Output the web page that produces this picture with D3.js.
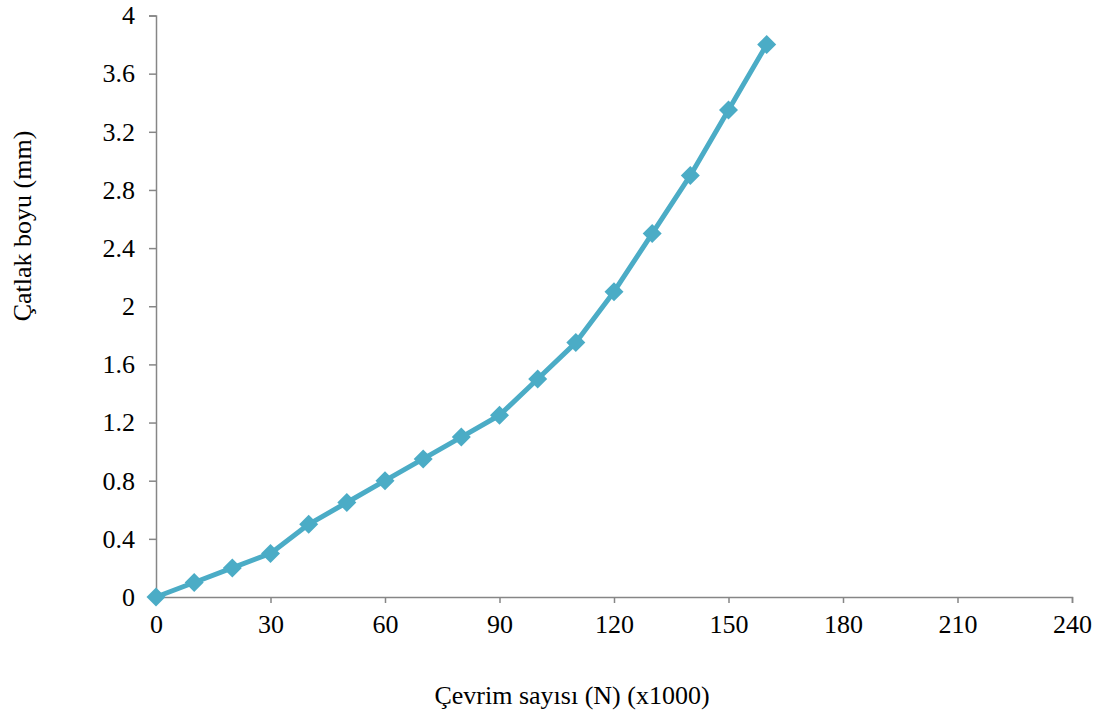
<!DOCTYPE html>
<html><head><meta charset="utf-8">
<script src="https://cdn.jsdelivr.net/npm/d3@7"></script>
<style>body{margin:0;background:#fff}text{font-family:"Liberation Serif","Times New Roman",serif;fill:#000}</style>
</head><body><svg id="c" width="1101" height="720"></svg>
<script>
const cycles = [0,10,20,30,40,50,60,70,80,90,100,110,120,130,140,150,160];
const crackLength = [0,0.1,0.2,0.3,0.5,0.65,0.8,0.95,1.1,1.25,1.5,1.75,2.1,2.5,2.9,3.35,3.8];
const xTicks = [0,30,60,90,120,150,180,210,240];
const yTicks = [0,0.4,0.8,1.2,1.6,2,2.4,2.8,3.2,3.6,4];
const xTitle = "Çevrim sayısı (N) (x1000)";
const yTitle = "Çatlak boyu (mm)";

const svg = d3.select("#c");
const x = d3.scaleLinear().domain([0,240]).range([156,1072]);
const y = d3.scaleLinear().domain([0,4]).range([597,15.5]);
const axisColor = "#868686";

const gx = svg.append("g").attr("transform","translate(0,597)")
  .call(d3.axisBottom(x).tickValues(xTicks).tickSize(6).tickPadding(12).tickFormat(d3.format("d")));
const gy = svg.append("g").attr("transform","translate(156,0)")
  .call(d3.axisLeft(y).tickValues(yTicks).tickSize(7).tickPadding(14).tickFormat(d=>String(d)));
[gx,gy].forEach(g=>{
  g.attr("font-size",null).attr("font-family",null);
  g.select(".domain").attr("stroke",axisColor).attr("stroke-width",1.5);
  g.selectAll(".tick line").attr("stroke",axisColor).attr("stroke-width",1.5);
  g.selectAll(".tick text").attr("fill","#000").style("font-size","26px").style("font-family",'"Liberation Serif",serif');
});

const color = "#4BACC6";
svg.append("path").datum(cycles.map((c,i)=>[c,crackLength[i]]))
  .attr("fill","none").attr("stroke",color).attr("stroke-width",5).attr("stroke-linejoin","round")
  .attr("d", d3.line().x(d=>x(d[0])).y(d=>y(d[1])));
svg.append("g").selectAll("path").data(cycles.map((c,i)=>[c,crackLength[i]])).join("path")
  .attr("transform",d=>`translate(${x(d[0])},${y(d[1])})`)
  .attr("d","M0,-9.5L9.5,0L0,9.5L-9.5,0Z").attr("fill",color);

svg.append("text").attr("x",572).attr("y",704).attr("text-anchor","middle").style("font-size","26px").text(xTitle);
svg.append("text").attr("transform","translate(31,226) rotate(-90)").attr("text-anchor","middle").style("font-size","26px").text(yTitle);
</script></body></html>
